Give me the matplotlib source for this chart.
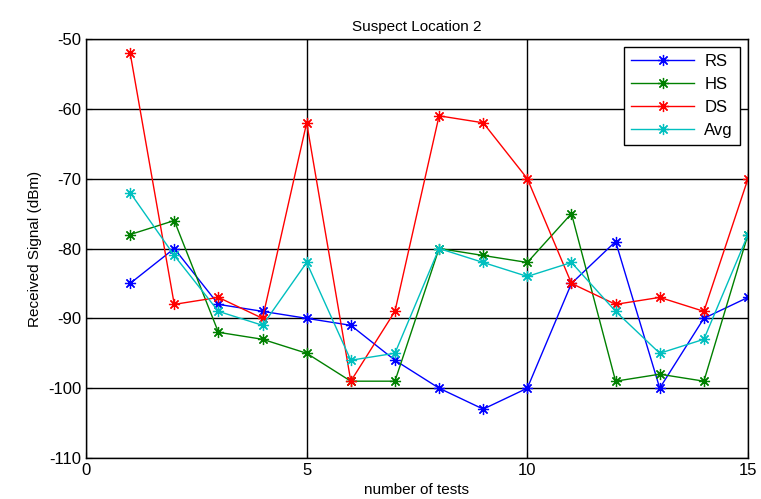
import matplotlib
matplotlib.use("Agg")
import matplotlib.pyplot as plt

plt.rcParams['font.family'] = ['Liberation Sans', 'DejaVu Sans']
plt.rcParams['axes.unicode_minus'] = False

tests = list(range(1, 16))
rs = [-85, -80, -88, -89, -90, -91, -96, -100, -103, -100, -85, -79, -100, -90, -87]
hs = [-78, -76, -92, -93, -95, -99, -99, -80, -81, -82, -75, -99, -98, -99, -78]
ds = [-52, -88, -87, -90, -62, -99, -89, -61, -62, -70, -85, -88, -87, -89, -70]
avg = [-72, -81, -89, -91, -82, -96, -95, -80, -82, -84, -82, -89, -95, -93, -78]
xticks = [0, 5, 10, 15]
yticks = [-110, -100, -90, -80, -70, -60, -50]

fig = plt.figure(figsize=(7.61, 4.99), dpi=100)
ax = fig.add_axes([86/761, 1-458/499, (748-86)/761, (458-39)/499])

mk = (8, 2, 0)
style = dict(marker=mk, ms=8, mew=0.9, lw=1)
ax.plot(tests, rs, color='#0000ff', label='RS', **style)
ax.plot(tests, hs, color='#008000', label='HS', **style)
ax.plot(tests, ds, color='#ff0000', label='DS', **style)
ax.plot(tests, avg, color='#00bfbf', label='Avg', **style)

ax.set_xlim(0, 15)
ax.set_ylim(-110, -50)
ax.set_xticks(xticks)
ax.set_yticks(yticks)
ax.grid(True, color='black', linestyle='-', linewidth=1)
ax.tick_params(labelsize=12, direction='in', length=4)
for s in ax.spines.values():
    s.set_linewidth(1)
ax.set_title('Suspect Location 2', fontsize=11, pad=6)
ax.set_xlabel('number of tests', fontsize=11, labelpad=4)
ax.set_ylabel('Received Signal (dBm)', fontsize=11)
leg = ax.legend(loc='upper right', fontsize=12, fancybox=False, framealpha=1,
                edgecolor='black', borderaxespad=0.5, handlelength=3.8,
                labelspacing=0.48, borderpad=0.4, handletextpad=0.6)
leg.get_frame().set_linewidth(1)

fig.savefig('out.png', dpi=100)
